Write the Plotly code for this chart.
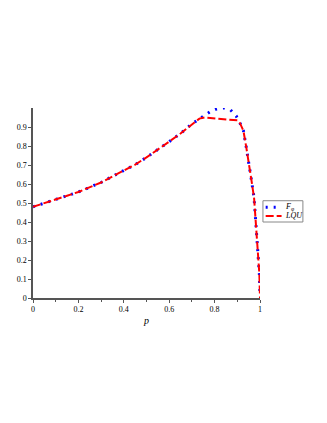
import plotly.graph_objects as go

# values
p_f = [0, 0.05, 0.1, 0.15, 0.2, 0.25, 0.3, 0.35, 0.4, 0.45, 0.5, 0.55, 0.6, 0.65, 0.7,
       0.75, 0.78, 0.81, 0.84, 0.87, 0.895, 0.912, 0.927, 0.94, 0.953, 0.963, 0.974,
       0.982, 0.99, 0.997, 1.0]
f_phi = [0.48, 0.499, 0.515, 0.538, 0.558, 0.582, 0.608, 0.64, 0.671, 0.702, 0.74, 0.78,
         0.823, 0.866, 0.916, 0.956, 0.98, 0.995, 1.0, 0.99, 0.958, 0.92, 0.88, 0.79, 0.70,
         0.615, 0.525, 0.39, 0.25, 0.13, 0.02]

p_lqu = [0, 0.05, 0.1, 0.15, 0.2, 0.25, 0.3, 0.35, 0.4, 0.45, 0.5, 0.55, 0.6, 0.65, 0.7,
         0.733, 0.757, 0.9, 0.912, 0.927, 0.94, 0.953, 0.963, 0.974, 0.982, 0.99, 0.997, 1.0]
lqu = [0.48, 0.499, 0.515, 0.538, 0.558, 0.582, 0.608, 0.64, 0.671, 0.702, 0.74, 0.78,
       0.823, 0.866, 0.916, 0.944, 0.95, 0.935, 0.92, 0.88, 0.79, 0.70, 0.615, 0.525, 0.39,
       0.25, 0.13, 0.0]

x_ticks = [0, 0.2, 0.4, 0.6, 0.8, 1]
x_labels = ["0", "0.2", "0.4", "0.6", "0.8", "1"]
y_ticks = [0, 0.1, 0.2, 0.3, 0.4, 0.5, 0.6, 0.7, 0.8, 0.9]
y_labels = ["0", "0.1", "0.2", "0.3", "0.4", "0.5", "0.6", "0.7", "0.8", "0.9"]

series_names = ["<i>F</i><sub>φ</sub>", "<i>LQU</i>"]
series_colors = ["#0000ff", "#ff0000"]
series_dash = ["2px,6px", "8px,3px"]
series_width = [3, 2]

axis_col = "#555555"

fig = go.Figure()
fig.add_trace(go.Scatter(x=p_f, y=f_phi, mode="lines", name=series_names[0],
                         line=dict(color=series_colors[0], width=series_width[0],
                                   dash=series_dash[0])))
fig.add_trace(go.Scatter(x=p_lqu, y=lqu, mode="lines", name=series_names[1],
                         line=dict(color=series_colors[1], width=series_width[1],
                                   dash=series_dash[1])))

# compact boxed legend like the original (plotly's own legend is too roomy here)
fig.add_shape(type="rect", xref="paper", yref="paper", x0=1.013, x1=1.189, y0=0.40, y1=0.512,
              line=dict(color="#888888", width=1), fillcolor="white")
for i, y in enumerate([0.478, 0.432]):
    fig.add_shape(type="line", xref="paper", yref="paper", x0=1.025, x1=1.095, y0=y, y1=y,
                  line=dict(color=series_colors[i], width=series_width[i], dash=series_dash[i]))
    fig.add_annotation(x=1.10, y=y, xref="paper", yref="paper", text=series_names[i],
                       showarrow=False, xanchor="left", yanchor="middle",
                       font=dict(size=8, color="black"))

# page body has an 8px margin, so the figure is a little smaller than the window
fig.update_layout(
    width=319, height=415,
    margin=dict(l=25, r=67, t=100, b=125, autoexpand=False),
    paper_bgcolor="white", plot_bgcolor="white",
    font=dict(family="Liberation Serif", size=8, color="black"),
    showlegend=False,
    xaxis=dict(range=[0, 1.0], tickvals=x_ticks, ticktext=x_labels, automargin=False,
               showgrid=False, zeroline=False, showline=True, linecolor=axis_col,
               linewidth=1.5, ticks="outside", ticklen=3, tickcolor=axis_col,
               tickfont=dict(color="black", size=8),
               minor=dict(dtick=0.1, ticks="outside", ticklen=2, tickcolor=axis_col),
               title=dict(text="<i>p</i>", font=dict(size=10, color="black"), standoff=4)),
    yaxis=dict(range=[0, 1.0], tickvals=y_ticks, ticktext=y_labels, automargin=False,
               showgrid=False, zeroline=False, showline=True, linecolor=axis_col,
               linewidth=1.5, ticks="outside", ticklen=3, tickcolor=axis_col,
               tickfont=dict(color="black", size=8)),
)

fig.write_html("out.html")
